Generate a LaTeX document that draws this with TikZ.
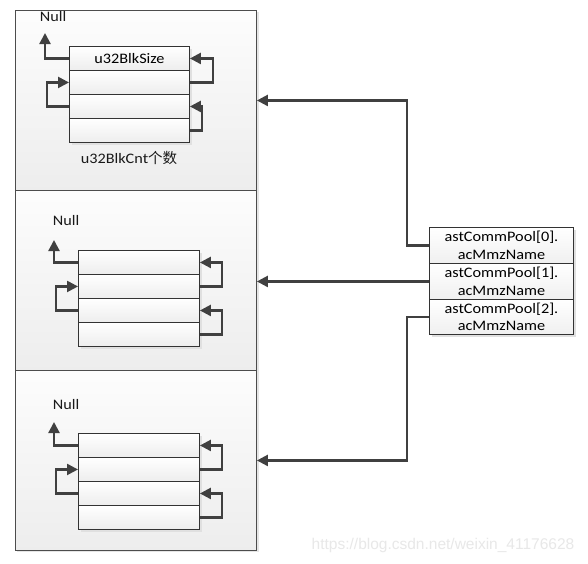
\documentclass[tikz,border=0pt]{standalone}
\usepackage{fontspec}
\setmainfont[FakeStretch=1.12]{Carlito}
\newfontfamily\cjkfont{Noto Sans CJK SC}
\newfontfamily\wmfont{Liberation Sans}
\usetikzlibrary{arrows.meta,calc}
\begin{document}
\begin{tikzpicture}[x=1pt,y=-1pt,
  font=\fontsize{14.5}{17.5}\selectfont,
  outerbox/.style={draw=black!70, line width=0.9pt, top color=black!1, bottom color=black!7,
    minimum width=241pt, minimum height=180pt, anchor=north west, inner sep=0pt},
  rowbox/.style={draw=black!80, line width=0.9pt, top color=white, bottom color=black!7,
    minimum width=120pt, minimum height=24pt, anchor=north west, inner sep=0pt},
  namebox/.style={draw=black!80, line width=0.9pt, top color=white, bottom color=black!6,
    minimum width=144pt, minimum height=36pt, anchor=north west, inner sep=0pt, align=center},
  conn/.style={draw=black!75, line width=2.3pt, -{Triangle[length=11pt,width=11pt]}},
  shadowfill/.style={fill=black!12},
  lbl/.style={text=black!90, inner sep=0pt},
  wm/.style={text=black!9, font=\wmfont\fontsize{15.5}{17}\selectfont, inner sep=0pt}
]
\useasboundingbox (0,0) rectangle (588,563);
\fill[white] (0,0) rectangle (588,563);

% outer boxes
\fill[black!10] (257,12) rectangle (259,552);
\fill[black!10] (17,550) rectangle (259,552);
\node[outerbox] (B1) at (15,10) {};
\node[outerbox] (B2) at (15,190) {};
\node[outerbox] (B3) at (15,370) {};

% shadows of stacks
\fill[shadowfill] (72,49) rectangle (192,145);
\fill[shadowfill] (81,253) rectangle (202,349);
\fill[shadowfill] (81,436) rectangle (202,532);

% stack 1
\node[rowbox] (a1) at (69,46) {u32BlkSize};
\foreach \i in {2,3,4} \node[rowbox] (a\i) at (69,{46+24*(\i-1)}) {};
% stack 2
\foreach \i in {1,2,3,4} \node[rowbox, minimum width=121pt] (b\i) at (78,{250+24*(\i-1)}) {};
% stack 3
\foreach \i in {1,2,3,4} \node[rowbox, minimum width=121pt] (c\i) at (78,{433+24*(\i-1)}) {};

% labels
\node[lbl] (n1) at (53,17) {Null};
\node[lbl] (n2) at (66,221) {Null};
\node[lbl] (n3) at (66,405) {Null};
\node[lbl] (cnt) at (129,158) {u32BlkCnt{\cjkfont\fontsize{14.5}{16}\selectfont 个数}};

\coordinate (t1) at (45,33);
\coordinate (t2) at (54,240);
\coordinate (t3) at (54,422);

% null arrows
\draw[conn] (a1.west) -| (t1);
\draw[conn] (b1.west) -| (t2);
\draw[conn] (c1.west) -| (t3);

% left loops
\draw[conn] (a3.west) -- ++(-22,0) |- (a2.west);
\draw[conn] (b3.west) -- ++(-22,0) |- (b2.west);
\draw[conn] (c3.west) -- ++(-22,0) |- (c2.west);

% right loops
\draw[conn] (a2.east) -- ++(23,0) |- (a1.east);
\draw[conn] (a4.east) -- ++(12,0) |- (a3.east);
\draw[conn] (b2.east) -- ++(22,0) |- (b1.east);
\draw[conn] (b4.east) -- ++(22,0) |- (b3.east);
\draw[conn] (c2.east) -- ++(22,0) |- (c1.east);
\draw[conn] (c4.east) -- ++(22,0) |- (c3.east);

% name boxes
\fill[shadowfill] (432,230) rectangle (576,337);
\node[namebox] (p0) at (429,227) {astCommPool[0].\\acMmzName};
\node[namebox] (p1) at (429,263) {astCommPool[1].\\acMmzName};
\node[namebox, minimum height=35pt] (p2) at (429,299) {astCommPool[2].\\acMmzName};

% connectors to pools
\draw[conn] (p0.west) -- ++(-22,0) |- (B1.east);
\draw[conn] (p1.west) -- (p1.west -| B2.east);
\draw[conn] (p2.west) -- ++(-22,0) |- (B3.east);

% watermark
\node[wm] (wmk) at (443,545) {https://blog.csdn.net/weixin\_41176628};
\end{tikzpicture}
\end{document}
